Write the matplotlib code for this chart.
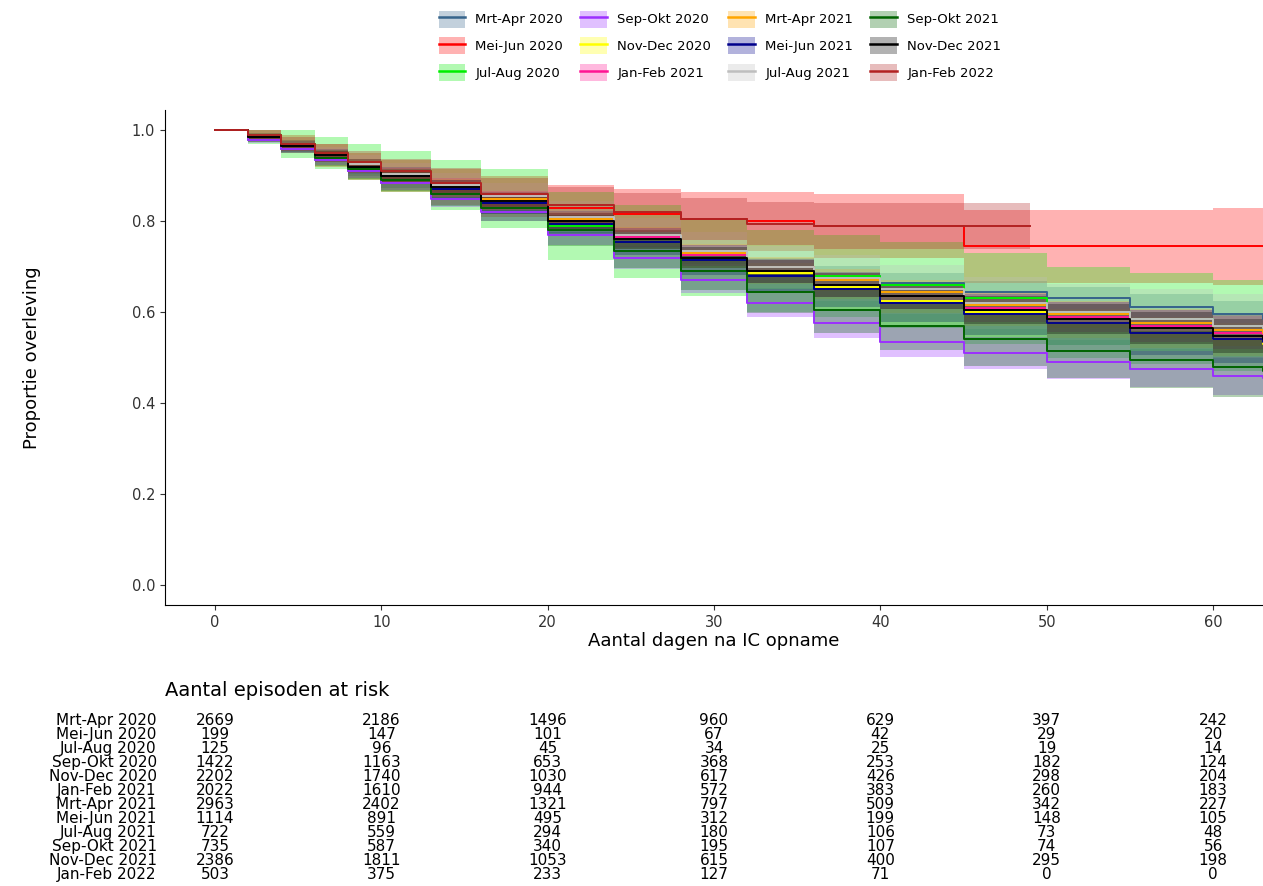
import matplotlib
matplotlib.use("Agg")
import matplotlib.pyplot as plt
from matplotlib.patches import Patch
from matplotlib.lines import Line2D
import numpy as np

labels = ["Mrt-Apr 2020","Mei-Jun 2020","Jul-Aug 2020","Sep-Okt 2020","Nov-Dec 2020","Jan-Feb 2021",
          "Mrt-Apr 2021","Mei-Jun 2021","Jul-Aug 2021","Sep-Okt 2021","Nov-Dec 2021","Jan-Feb 2022"]
colors = ["#36648B","#FF0000","#00EE00","#9B30FF","#FFFF00","#FF1493",
          "#FFA500","#00008B","#BEBEBE","#006400","#000000","#B22222"]
days = [0,2,4,6,8,10,13,16,20,24,28,32,36,40,45,50,55,60,63]
surv = {
 "Mrt-Apr 2020":[1,.98,.96,.935,.91,.885,.86,.83,.79,.76,.725,.70,.68,.665,.645,.63,.612,.595,.585],
 "Mei-Jun 2020":[1,.99,.97,.945,.92,.90,.875,.855,.83,.815,.805,.80,.79,.79,.745,.745,.745,.745,.745],
 "Jul-Aug 2020":[1,.99,.97,.95,.93,.91,.88,.85,.79,.755,.72,.69,.68,.66,.63,.60,.585,.57,.565],
 "Sep-Okt 2020":[1,.98,.96,.935,.91,.885,.85,.82,.77,.72,.67,.62,.575,.535,.51,.49,.475,.46,.455],
 "Nov-Dec 2020":[1,.985,.965,.945,.925,.90,.875,.845,.80,.76,.72,.685,.655,.625,.60,.575,.555,.54,.53],
 "Jan-Feb 2021":[1,.985,.965,.945,.925,.905,.88,.85,.80,.765,.725,.69,.66,.635,.61,.59,.57,.555,.55],
 "Mrt-Apr 2021":[1,.985,.965,.945,.925,.905,.88,.85,.805,.77,.73,.70,.67,.645,.615,.595,.575,.56,.555],
 "Mei-Jun 2021":[1,.985,.965,.945,.92,.90,.87,.84,.795,.755,.715,.68,.65,.62,.595,.575,.555,.54,.535],
 "Jul-Aug 2021":[1,.985,.965,.945,.925,.905,.88,.855,.81,.77,.735,.70,.675,.65,.62,.60,.585,.57,.565],
 "Sep-Okt 2021":[1,.985,.965,.94,.915,.89,.86,.83,.78,.735,.69,.645,.605,.57,.54,.515,.495,.478,.47],
 "Nov-Dec 2021":[1,.985,.965,.945,.92,.90,.875,.845,.80,.76,.72,.69,.66,.635,.605,.585,.565,.548,.54],
 "Jan-Feb 2022":[1,.99,.97,.95,.93,.91,.885,.86,.835,.82,.805,.795,.79,.79,.79,np.nan,np.nan,np.nan,np.nan],
}
ci = {
 "Mrt-Apr 2020":[0,.005,.007,.009,.01,.012,.013,.014,.016,.018,.019,.02,.021,.022,.024,.026,.028,.03,.031],
 "Mei-Jun 2020":[0,.015,.02,.025,.03,.035,.04,.045,.05,.055,.06,.065,.07,.07,.08,.08,.08,.085,.085],
 "Jul-Aug 2020":[0,.02,.03,.035,.04,.045,.055,.065,.075,.08,.085,.09,.09,.095,.1,.1,.1,.1,.1],
 "Sep-Okt 2020":[0,.007,.01,.012,.014,.016,.018,.02,.022,.025,.027,.03,.032,.034,.036,.038,.04,.042,.043],
 "Nov-Dec 2020":[0,.005,.008,.01,.011,.013,.014,.016,.018,.02,.022,.024,.026,.028,.03,.032,.034,.036,.037],
 "Jan-Feb 2021":[0,.005,.008,.01,.012,.013,.015,.017,.019,.021,.023,.025,.027,.029,.031,.033,.035,.037,.038],
 "Mrt-Apr 2021":[0,.005,.007,.009,.01,.012,.013,.014,.016,.018,.02,.022,.024,.026,.028,.03,.032,.034,.035],
 "Mei-Jun 2021":[0,.008,.012,.015,.017,.019,.021,.024,.027,.03,.033,.036,.039,.042,.045,.048,.05,.053,.055],
 "Jul-Aug 2021":[0,.01,.015,.018,.021,.024,.027,.03,.034,.038,.042,.046,.05,.054,.058,.062,.066,.07,.072],
 "Sep-Okt 2021":[0,.01,.015,.018,.021,.024,.027,.03,.034,.038,.042,.046,.05,.054,.058,.06,.063,.066,.068],
 "Nov-Dec 2021":[0,.005,.008,.01,.012,.013,.015,.017,.019,.021,.023,.025,.027,.029,.031,.033,.035,.037,.038],
 "Jan-Feb 2022":[0,.01,.015,.02,.024,.028,.032,.036,.04,.043,.046,.048,.05,.05,.05,np.nan,np.nan,np.nan,np.nan],
}
risk_days = [0,10,20,30,40,50,60]
at_risk = {
 "Mrt-Apr 2020":[2669,2186,1496,960,629,397,242],
 "Mei-Jun 2020":[199,147,101,67,42,29,20],
 "Jul-Aug 2020":[125,96,45,34,25,19,14],
 "Sep-Okt 2020":[1422,1163,653,368,253,182,124],
 "Nov-Dec 2020":[2202,1740,1030,617,426,298,204],
 "Jan-Feb 2021":[2022,1610,944,572,383,260,183],
 "Mrt-Apr 2021":[2963,2402,1321,797,509,342,227],
 "Mei-Jun 2021":[1114,891,495,312,199,148,105],
 "Jul-Aug 2021":[722,559,294,180,106,73,48],
 "Sep-Okt 2021":[735,587,340,195,107,74,56],
 "Nov-Dec 2021":[2386,1811,1053,615,400,295,198],
 "Jan-Feb 2022":[503,375,233,127,71,0,0],
}

W, H = 1263, 886
fig = plt.figure(figsize=(W/100, H/100), dpi=100)
ax = fig.add_axes([165/W, 1-605/H, (1263-165)/W, (605-110)/H])
x = np.array(days, float)
for lab, col in zip(labels, colors):
    s = np.array(surv[lab]); c = np.array(ci[lab])
    m = ~np.isnan(s)
    xx = x[m]; ss = s[m]; cc = c[m]
    end = 49 if lab == "Jan-Feb 2022" else 63.5
    xx = np.append(xx, end); ss = np.append(ss, ss[-1]); cc = np.append(cc, cc[-1])
    ax.fill_between(xx, np.clip(ss-cc, 0, 1), np.clip(ss+cc, 0, 1), step="post", color=col, alpha=0.3, lw=0)
    ax.step(xx, ss, where="post", color=col, lw=1.4)
ax.set_xlim(-3.0, 63)
ax.set_ylim(-0.045, 1.045)
ax.set_xticks([0,10,20,30,40,50,60])
ax.set_yticks([0,.2,.4,.6,.8,1.0])
ax.set_yticklabels(["0.0","0.2","0.4","0.6","0.8","1.0"])
for s in ["top","right"]:
    ax.spines[s].set_visible(False)
ax.tick_params(labelsize=10.5, colors="#333333")
ax.set_xlabel("Aantal dagen na IC opname", fontsize=13, labelpad=2)
ax.set_ylabel("Proportie overleving", fontsize=13, labelpad=65)

handles = [(Patch(facecolor=c, alpha=0.3), Line2D([], [], color=c, lw=1.8)) for c in colors]
fig.legend(handles, labels, loc="upper center", bbox_to_anchor=(0.57, 1.0), ncol=4, frameon=False,
           fontsize=9.5, handlelength=2, handleheight=1.6, columnspacing=1.3, labelspacing=0.75, borderaxespad=0.4)

# risk table
ta = fig.add_axes([165/W, 1-882/H, (1263-165)/W, (882-713)/H], sharex=ax)
ta.set_ylim(len(labels)-0.5, -0.5)
ta.axis("off")
fig.text(165/W, 1-690/H, "Aantal episoden at risk", fontsize=14, va="center")
for i, lab in enumerate(labels):
    ta.text(-3.5, i, lab, ha="right", va="center", fontsize=11)
    for d, v in zip(risk_days, at_risk[lab]):
        ta.text(d, i, str(v), ha="center", va="center", fontsize=11)
fig.savefig("out.png", dpi=100)
